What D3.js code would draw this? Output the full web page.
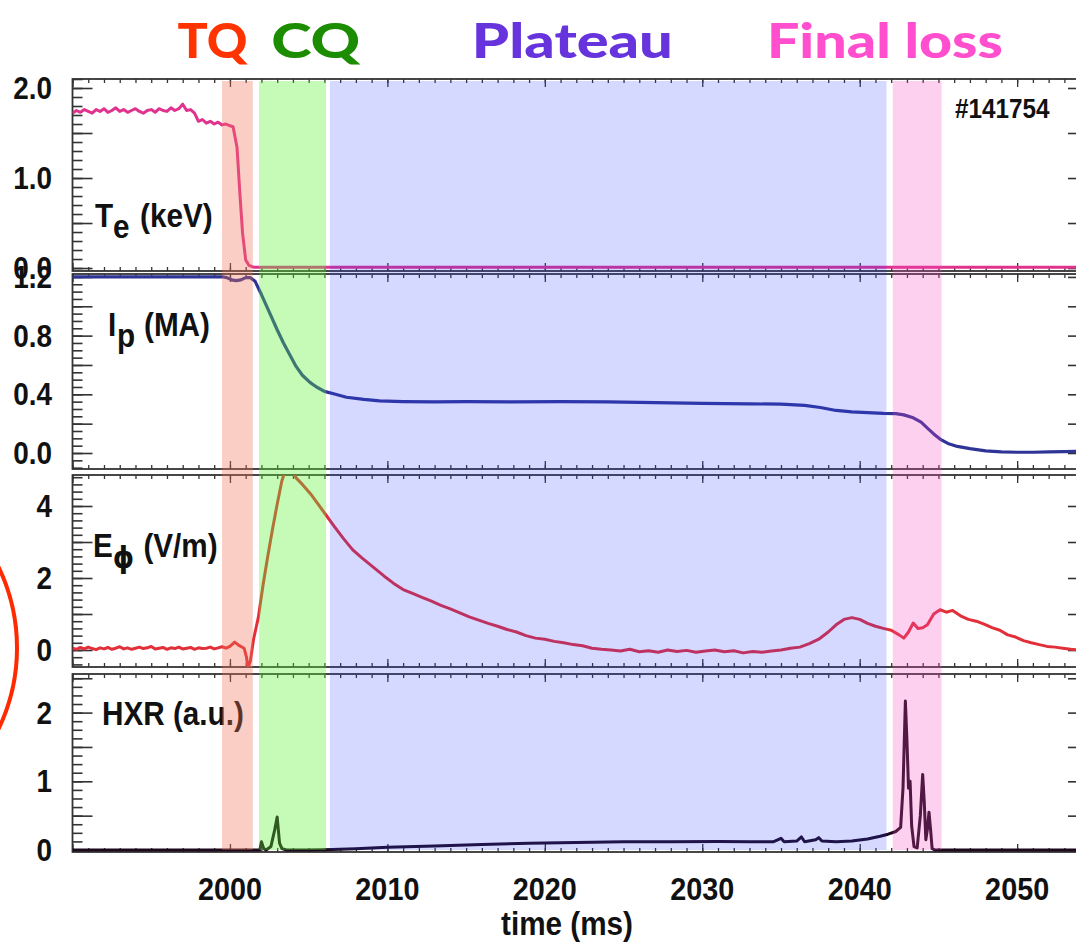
<!DOCTYPE html>
<html>
<head>
<meta charset="utf-8">
<script src="https://cdn.jsdelivr.net/npm/d3@7"></script>
<style>
  html, body { margin: 0; padding: 0; background: #fff; }
  svg { display: block; }
</style>
</head>
<body>
<svg id="chart" width="1076" height="944"></svg>
<script>
// ---------- data ----------
const phaseNames  = ["TQ", "CQ", "Plateau", "Final loss"];
const phaseStart  = [1999.5, 2001.85, 2006.35, 2042.1];
const phaseEnd    = [2001.45, 2006.1, 2041.7, 2045.2];
const phaseLabelT = [1998.9, 2005.45, 2021.75, 2041.6];

const timeTicks  = [2000, 2010, 2020, 2030, 2040, 2050];
const teTickLbl  = ["0.0", "1.0", "2.0"];
const ipTickLbl  = ["0.0", "0.4", "0.8", "1.2"];
const eTickLbl   = ["0", "2", "4"];
const hxrTickLbl = ["0", "1", "2"];
const shotLabel  = "#141754";

// electron temperature (keV)
const teTime = [1990, 1990.25, 1990.5, 1990.75, 1991, 1991.25, 1991.5, 1991.75, 1992, 1992.25, 1992.5, 1992.75, 1993, 1993.25, 1993.5, 1993.75, 1994, 1994.25, 1994.5, 1994.75, 1995, 1995.25, 1995.5, 1995.75, 1996, 1996.25, 1996.5, 1996.75, 1997.0, 1997.25, 1997.5, 1997.75, 1998.0, 1998.25, 1998.5, 1998.75, 1999.0, 1999.25, 1999.5, 1999.75, 2000.0, 2000.2, 2000.45, 2000.63, 2000.8, 2001.0, 2001.2, 2001.5, 2010, 2030, 2054.5];
const teVal  = [1.72, 1.75, 1.73, 1.76, 1.74, 1.72, 1.76, 1.74, 1.77, 1.73, 1.75, 1.78, 1.74, 1.76, 1.73, 1.75, 1.77, 1.74, 1.72, 1.75, 1.76, 1.73, 1.77, 1.75, 1.74, 1.78, 1.75, 1.77, 1.82, 1.75, 1.76, 1.72, 1.63, 1.65, 1.61, 1.63, 1.60, 1.62, 1.59, 1.60, 1.58, 1.57, 1.34, 0.83, 0.39, 0.09, 0.03, 0.01, 0.01, 0.01, 0.01];

// plasma current (MA)
const ipTime = [1990, 1995, 1999.6, 1999.8, 2000.1, 2000.4, 2000.7, 2001.0, 2001.3, 2001.6, 2002.0, 2002.5, 2003.0, 2003.4, 2003.8, 2004.2, 2004.6, 2005.1, 2005.5, 2006.0, 2006.7, 2007.4, 2008.5, 2009.5, 2011, 2013, 2015, 2018, 2021, 2024, 2027, 2030, 2033, 2035, 2036.5, 2037.5, 2038.5, 2039.5, 2040.5, 2041.5, 2042.3, 2042.8, 2043.4, 2043.9, 2044.3, 2044.7, 2045.1, 2045.6, 2046.2, 2047, 2048, 2049, 2050, 2051, 2052, 2053, 2054.5];
const ipVal  = [1.20, 1.20, 1.20, 1.195, 1.18, 1.175, 1.18, 1.195, 1.195, 1.17, 1.08, 0.96, 0.84, 0.75, 0.67, 0.59, 0.53, 0.48, 0.45, 0.42, 0.40, 0.38, 0.365, 0.355, 0.35, 0.348, 0.35, 0.348, 0.35, 0.348, 0.343, 0.338, 0.335, 0.333, 0.325, 0.31, 0.29, 0.28, 0.275, 0.27, 0.268, 0.26, 0.24, 0.21, 0.17, 0.13, 0.095, 0.065, 0.045, 0.03, 0.015, 0.008, 0.005, 0.005, 0.008, 0.01, 0.012];

// toroidal electric field (V/m)
const eTime = [1990, 1990.25, 1990.5, 1990.75, 1991, 1991.25, 1991.5, 1991.75, 1992, 1992.25, 1992.5, 1992.75, 1993, 1993.25, 1993.5, 1993.75, 1994, 1994.25, 1994.5, 1994.75, 1995, 1995.25, 1995.5, 1995.75, 1996, 1996.25, 1996.5, 1996.75, 1997, 1997.25, 1997.5, 1997.75, 1998, 1998.25, 1998.5, 1998.75, 1999, 1999.25, 1999.5, 1999.75, 2000.0, 2000.3, 2000.6, 2000.9, 2001.05, 2001.15, 2001.3, 2001.5, 2001.8, 2002.1, 2002.4, 2002.7, 2003.0, 2003.3, 2003.6, 2003.9, 2004.2, 2004.6, 2005.1, 2005.6, 2006.1, 2006.6, 2007.2, 2007.8, 2008.4, 2009.1, 2009.8, 2010.4, 2011.0, 2011.6, 2012.2, 2012.8, 2013.4, 2014.0, 2014.6, 2015.2, 2015.8, 2016.4, 2017.0, 2017.6, 2018.2, 2018.8, 2019.4, 2020.0, 2020.6, 2021.2, 2021.8, 2022.4, 2023.0, 2023.6, 2024.2, 2024.8, 2025.4, 2026.0, 2026.6, 2027.2, 2027.8, 2028.4, 2029.0, 2029.6, 2030.2, 2030.8, 2031.4, 2032.0, 2032.6, 2033.2, 2033.8, 2034.4, 2035.0, 2035.6, 2036.2, 2036.8, 2037.4, 2038.0, 2038.5, 2039.0, 2039.5, 2040.0, 2040.5, 2041.0, 2041.5, 2042.0, 2042.5, 2042.8, 2043.1, 2043.4, 2043.7, 2044.0, 2044.3, 2044.7, 2045.1, 2045.5, 2045.9, 2046.4, 2046.9, 2047.4, 2047.9, 2048.4, 2048.9, 2049.4, 2049.9, 2050.4, 2050.9, 2051.4, 2051.9, 2052.4, 2052.9, 2053.4, 2054.0, 2054.5];
const eVal  = [0.05, 0.02, 0.07, 0.03, 0.08, 0.04, 0.01, 0.06, 0.03, 0.07, 0.02, 0.05, 0.09, 0.03, 0.06, 0.02, 0.05, 0.08, 0.04, 0.06, 0.10, 0.03, 0.05, 0.07, 0.02, 0.06, 0.04, 0.08, 0.03, 0.05, 0.07, 0.02, 0.06, 0.04, 0.05, 0.08, 0.03, 0.06, 0.09, 0.05, 0.10, 0.22, 0.12, 0.05, -0.2, -0.5, -0.3, 0.3, 0.9, 1.8, 2.6, 3.35, 4.05, 4.7, 5.1, 5.05, 4.78, 4.6, 4.35, 4.05, 3.75, 3.45, 3.1, 2.78, 2.55, 2.3, 2.05, 1.85, 1.68, 1.57, 1.46, 1.36, 1.24, 1.14, 1.03, 0.92, 0.83, 0.74, 0.66, 0.57, 0.50, 0.40, 0.33, 0.30, 0.24, 0.20, 0.15, 0.12, 0.05, 0.02, 0.0, -0.03, 0.02, -0.05, -0.02, -0.06, 0.0, -0.04, -0.01, -0.06, -0.03, 0.0, -0.05, -0.02, -0.08, -0.04, -0.06, -0.03, 0.0, 0.05, 0.08, 0.18, 0.30, 0.50, 0.70, 0.85, 0.90, 0.85, 0.74, 0.66, 0.60, 0.55, 0.42, 0.33, 0.50, 0.75, 0.60, 0.62, 0.70, 1.0, 1.12, 1.05, 1.10, 0.95, 0.85, 0.80, 0.72, 0.62, 0.55, 0.42, 0.36, 0.26, 0.20, 0.15, 0.10, 0.08, 0.05, 0.02, 0.0, 0.0];

// hard X-ray signal (a.u.)
const hxrTime = [1990, 2001.9, 2002.0, 2002.15, 2002.3, 2002.6, 2002.85, 2003.0, 2003.15, 2003.3, 2003.6, 2005, 2006, 2008, 2010, 2013, 2016, 2019, 2022, 2025, 2028, 2031, 2033, 2034.5, 2035.0, 2035.2, 2036.0, 2036.3, 2036.5, 2037.2, 2037.4, 2037.6, 2038.5, 2039.5, 2040.5, 2041.3, 2041.8, 2042.3, 2042.6, 2042.75, 2042.9, 2043.0, 2043.1, 2043.2, 2043.3, 2043.45, 2043.65, 2043.85, 2044.0, 2044.1, 2044.2, 2044.3, 2044.4, 2044.5, 2044.6, 2044.8, 2054.5];
const hxrVal  = [0, 0, 0.12, 0.02, 0.0, 0.05, 0.30, 0.48, 0.10, 0.02, 0.0, 0.0, 0.005, 0.02, 0.04, 0.06, 0.08, 0.10, 0.11, 0.12, 0.12, 0.125, 0.12, 0.12, 0.17, 0.12, 0.13, 0.19, 0.12, 0.15, 0.18, 0.13, 0.12, 0.13, 0.16, 0.20, 0.23, 0.27, 0.33, 0.9, 2.17, 1.6, 0.9, 1.0, 0.35, 0.05, 0.03, 0.5, 1.1, 0.7, 0.15, 0.3, 0.55, 0.3, 0.02, 0.0, 0.0];

// ---------- layout ----------
const svg = d3.select("#chart");
const W = 1076, H = 944;
const X0 = 72.5, X1 = 1088;
const SQ = 0.9; // horizontal squeeze of the lettering
const x = d3.scaleLinear().domain([1990, 2054.5]).range([X0, X1]);

const panels = [
  { key: "te",  top: 79,  bottom: 271, domain: [-0.033, 2.1],  major: 0.5, minor: 0.1,   labels: teTickLbl,  t: teTime,  v: teVal,  color: "#e0338e", width: 3 },
  { key: "ip",  top: 274, bottom: 469, domain: [-0.109, 1.22], major: 0.2, minor: 0.05,  labels: ipTickLbl,  t: ipTime,  v: ipVal,  color: "#2f3596", width: 3.2 },
  { key: "e",   top: 475, bottom: 667, domain: [-0.472, 4.861],major: 1,   minor: 0.2,   labels: eTickLbl,   t: eTime,   v: eVal,   color: "#e2303a", width: 3 },
  { key: "hxr", top: 674, bottom: 852, domain: [-0.029, 2.562],major: 0.5, minor: 0.125, labels: hxrTickLbl, t: hxrTime, v: hxrVal, color: "#1c0a1c", width: 3 }
];

svg.append("rect").attr("width", W).attr("height", H).attr("fill", "#fff");
const defs = svg.append("defs");

function steps(lo, hi, step) {
  const out = [];
  const n0 = Math.ceil(lo / step - 1e-9), n1 = Math.floor(hi / step + 1e-9);
  for (let i = n0; i <= n1; i++) out.push(+(i * step).toFixed(4));
  return out;
}

function squeezed(g, str, px, py, size, anchor) {
  return g.append("text")
    .attr("transform", `translate(${px},${py}) scale(${SQ},1)`)
    .attr("text-anchor", anchor || "start")
    .attr("font-family", "'Liberation Sans', Arial, sans-serif")
    .attr("font-weight", "bold")
    .attr("font-size", size)
    .attr("fill", "#111")
    .text(str);
}

const minorT = steps(1990, 2054.5, 1);
const majorT = steps(1990, 2054.5, 10);

panels.forEach((p, i) => {
  const y = d3.scaleLinear().domain(p.domain).range([p.bottom, p.top]);
  p.y = y;
  const g = svg.append("g").attr("class", "panel-" + p.key);

  const yMinor = steps(p.domain[0], p.domain[1], p.minor);
  const yMajor = steps(p.domain[0], p.domain[1], p.major);

  // y ticks on both sides, pointing inward
  const addY = (axisFn, xPos, vals, len) => {
    const a = g.append("g").attr("transform", `translate(${xPos},0)`)
      .call(axisFn(y).tickValues(vals).tickSize(len).tickFormat(""));
    a.select(".domain").remove();
    a.selectAll("line").attr("stroke", "#333").attr("stroke-width", 1.6);
  };
  addY(d3.axisRight, X0, yMinor, 10);
  addY(d3.axisRight, X0, yMajor, 20);
  addY(d3.axisLeft, X1, yMinor, 10);
  addY(d3.axisLeft, X1, yMajor, 20);

  // time ticks along top and bottom edges, pointing inward
  const addX = (axisFn, yPos, vals, len) => {
    const a = g.append("g").attr("transform", `translate(0,${yPos})`)
      .call(axisFn(x).tickValues(vals).tickSize(len).tickFormat(""));
    a.select(".domain").remove();
    a.selectAll("line").attr("stroke", "#333").attr("stroke-width", 1.3);
  };
  addX(d3.axisBottom, p.top, minorT, 4);
  addX(d3.axisBottom, p.top, majorT, 8);
  addX(d3.axisTop, p.bottom, minorT, 4);
  addX(d3.axisTop, p.bottom, majorT, 8);

  // frame
  g.append("rect")
    .attr("x", X0).attr("y", p.top)
    .attr("width", X1 - X0).attr("height", p.bottom - p.top)
    .attr("fill", "none").attr("stroke", "#333").attr("stroke-width", 1.8);

  // tick labels
  p.labels.forEach(lbl => {
    squeezed(g, lbl, 52, y(+lbl) + 11, 31, "end");
  });

  // clipped trace
  defs.append("clipPath").attr("id", "clip-" + p.key)
    .append("rect").attr("x", X0).attr("y", p.top)
    .attr("width", X1 - X0).attr("height", p.bottom - p.top);
  const line = d3.line().x(d => x(d[0])).y(d => y(d[1]));
  g.append("path")
    .datum(p.t.map((t, k) => [t, p.v[k]]))
    .attr("clip-path", `url(#clip-${p.key})`)
    .attr("d", line)
    .attr("fill", "none")
    .attr("stroke", p.color)
    .attr("stroke-width", p.width)
    .attr("stroke-linejoin", "round");
});

// ---------- panel labels ----------
const FF = "'Liberation Sans', Arial, sans-serif";
function richLabel(px, py, parts) {
  const t = svg.append("text")
    .attr("transform", `translate(${px},${py}) scale(${SQ},1)`)
    .attr("font-family", FF).attr("font-weight", "bold")
    .attr("font-size", 33).attr("fill", "#111");
  parts.forEach(pt => {
    const s = t.append("tspan").attr("x", pt.x).attr("y", pt.dy || 0).text(pt.s);
    if (pt.font) s.attr("font-family", pt.font);
    if (pt.size) s.attr("font-size", pt.size);
  });
  return t;
}
richLabel(95, 227, [{ s: "T", x: 0 }, { s: "e", x: 20, dy: 11 }, { s: "(keV)", x: 50 }]);
richLabel(108, 336, [{ s: "I", x: 0 }, { s: "p", x: 10, dy: 11 }, { s: "(MA)", x: 40 }]);
richLabel(93, 557, [{ s: "E", x: 0 }, { s: "ϕ", x: 22, dy: 11, font: "'DejaVu Sans', sans-serif", size: 30 }, { s: "(V/m)", x: 56 }]);
richLabel(102, 725, [{ s: "HXR (a.u.)", x: 0 }]);
squeezed(svg, shotLabel, 955, 118, 27, "start");

// ---------- time axis labels ----------
const bottomAxis = svg.append("g").attr("transform", `translate(0,${panels[3].bottom})`)
  .call(d3.axisBottom(x).tickValues(timeTicks).tickSize(0).tickFormat(""));
bottomAxis.select(".domain").remove();
timeTicks.forEach(t => squeezed(svg, String(t), x(t), 900, 32, "middle"));
squeezed(svg, "time (ms)", 567, 935, 33, "middle");

// ---------- phase shading (translucent, over traces) ----------
const phaseFill  = ["rgb(240,115,85)", "rgb(90,240,50)", "rgb(45,60,255)", "rgb(245,67,187)"];
const phaseAlpha = [0.35, 0.35, 0.2, 0.25];
svg.append("g").selectAll("rect")
  .data(phaseNames)
  .join("rect")
  .attr("x", (d, i) => x(phaseStart[i]))
  .attr("width", (d, i) => x(phaseEnd[i]) - x(phaseStart[i]))
  .attr("y", 81)
  .attr("height", 850 - 81)
  .attr("fill", (d, i) => phaseFill[i])
  .attr("fill-opacity", (d, i) => phaseAlpha[i]);

// ---------- phase titles ----------
const titleColor = ["#ff3300", "#1c8c00", "#6633dd", "#ff4fcf"];
const titleWidth = [70, 89, 201, 236];
svg.append("g").selectAll("text")
  .data(phaseNames)
  .join("text")
  .attr("x", (d, i) => x(phaseLabelT[i]) - titleWidth[i] / 2)
  .attr("y", 58)
  .attr("textLength", (d, i) => titleWidth[i])
  .attr("lengthAdjust", "spacingAndGlyphs")
  .attr("font-family", "Lato, 'Open Sans', sans-serif")
  .attr("font-weight", 900)
  .attr("font-size", 48)
  .attr("fill", (d, i) => titleColor[i])
  .text(d => d);

// ---------- red highlight arc at the left edge ----------
svg.append("path")
  .attr("d", d3.arc()({ innerRadius: 187, outerRadius: 187, startAngle: Math.PI / 2 - 0.45, endAngle: Math.PI / 2 + 0.45 }))
  .attr("transform", "translate(-170,648)")
  .attr("fill", "none")
  .attr("stroke", "#ff2a00")
  .attr("stroke-width", 4);
</script>
</body>
</html>
